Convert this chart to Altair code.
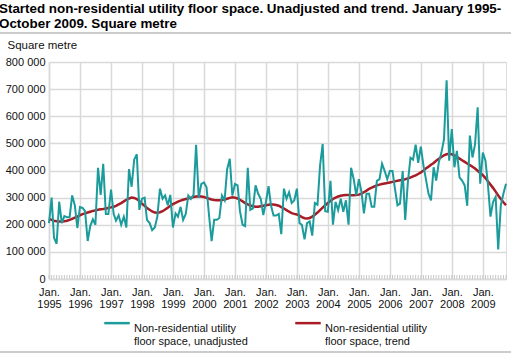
import altair as alt
import pandas as pd

# Monthly values, January 1995 - October 2009, in 1000 square metres
UNADJUSTED = [
    206, 300, 152, 130, 285, 206, 232, 228, 228, 308, 272, 188,   # 1995
    265, 262, 250, 140, 195, 220, 200, 410, 310, 425, 240, 240,   # 1996
    330, 240, 215, 235, 200, 230, 190, 405, 340, 440, 460, 255,   # 1997
    296, 300, 218, 206, 180, 190, 230, 333, 296, 308, 272, 310,   # 1998
    190, 242, 230, 266, 218, 240, 308, 295, 310, 495, 300, 350,   # 1999
    356, 338, 236, 140, 218, 218, 225, 308, 290, 405, 443, 308,   # 2000
    350, 345, 250, 200, 195, 410, 255, 260, 345, 315, 296, 236,   # 2001
    284, 342, 272, 234, 234, 240, 165, 333, 296, 320, 280, 290,   # 2002
    333, 206, 200, 146, 206, 212, 160, 280, 274, 417, 498, 250,   # 2003
    248, 362, 200, 284, 254, 296, 248, 290, 200, 410, 368, 308,   # 2004
    368, 320, 242, 314, 314, 266, 266, 362, 368, 425, 398, 368,   # 2005
    398, 398, 335, 272, 278, 398, 218, 356, 447, 440, 495, 428,   # 2006
    488, 418, 370, 315, 290, 412, 363, 430, 466, 515, 733, 436,   # 2007
    553, 412, 472, 375, 363, 345, 270, 529, 448, 496, 633, 351,   # 2008
    466, 436, 351, 230, 284, 303, 109, 272, 315, 351,             # 2009
]
TREND = [
    222, 218, 215, 213, 212, 212, 213, 215, 218, 222, 226, 230,
    235, 239, 242, 245, 248, 251, 253, 255, 257, 258, 260, 262,
    264, 266, 270, 275, 280, 286, 292, 297, 300, 299, 295, 287,
    278, 270, 262, 255, 249, 245, 244, 246, 250, 256, 263, 270,
    276, 281, 285, 289, 292, 295, 297, 300, 302, 304, 305, 304,
    302, 299, 296, 293, 291, 290, 290, 291, 293, 296, 299, 301,
    300, 297, 292, 286, 280, 275, 271, 268, 266, 266, 268, 270,
    272, 274, 275, 275, 273, 270, 265, 260, 254, 248, 243, 240,
    238, 234, 228, 224, 223, 225, 230, 237, 245, 254, 263, 272,
    280, 288, 295, 300, 304, 307, 309, 310, 310, 309, 309, 310,
    311, 315, 320, 326, 332, 337, 341, 345, 348, 350, 352, 354,
    356, 358, 360, 362, 364, 366, 368, 371, 374, 378, 382, 387,
    393, 400, 407, 414, 421, 428, 436, 443, 450, 456, 460, 462,
    460, 456, 450, 444, 438, 432, 426, 420, 414, 407, 399, 391,
    383, 372, 360, 348, 336, 322, 308, 295, 283, 272,
]
YEARS = list(range(1995, 2010))
SERIES = [
    "Non-residential utility floor space, unadjusted",
    "Non-residential utility floor space, trend",
]
COLORS = ["#1b9b9b", "#a81c26"]
TITLE = [
    "Started non-residential utility floor space. Unadjusted and trend. January 1995-",
    "October 2009. Square metre",
]
Y_TICKS = list(range(0, 800001, 100000))

FONT = "Liberation Sans"
W, H = 457, 217
GRID = "#d9d9d9"
SEP = "#cccccc"

N = len(UNADJUSTED)
months = pd.date_range("1995-01-01", periods=N, freq="MS")
unadj_df = pd.DataFrame({"date": months, "value": [v * 1000 for v in UNADJUSTED], "series": SERIES[0]})
trend_df = pd.DataFrame({"date": months, "value": [v * 1000 for v in TREND], "series": SERIES[1]})
tick_df = pd.DataFrame({"date": months})

x_scale = alt.Scale(domain=[alt.DateTime(year=1995, month=1, date=1),
                            alt.DateTime(year=2009, month=10, date=1)])
x_axis = alt.Axis(
    values=[alt.DateTime(year=y, month=1, date=1) for y in YEARS],
    labelExpr="['Jan.', timeFormat(datum.value, '%Y')]",
    title=None, grid=True, gridColor=GRID, gridWidth=1.5,
    tickSize=0, domainColor=GRID, domainWidth=1.5,
    labelFont=FONT, labelFontSize=11, labelColor="#111",
    labelBaseline="top", labelPadding=7, labelLineHeight=12,
    labelAlign="center", labelFlush=False, labelOverlap=False,
)
X = alt.X("date:T", scale=x_scale, axis=x_axis)
y_axis = alt.Axis(
    values=Y_TICKS,
    labelExpr="replace(format(datum.value, ','), ',', ' ')",
    title="Square metre", titleAngle=0, titleAlign="left", titleBaseline="alphabetic",
    titleX=-42, titleY=-14, titleFont=FONT, titleFontSize=11.5, titleFontWeight="normal",
    titleColor="#111",
    grid=True, gridColor=GRID, gridWidth=1.5, tickSize=0,
    domainColor=GRID, domainWidth=1.5,
    labelFont=FONT, labelFontSize=11, labelColor="#111", labelPadding=4,
)
Y = alt.Y("value:Q", scale=alt.Scale(domain=[0, 800000], nice=False), axis=y_axis)
color = alt.Color(
    "series:N",
    scale=alt.Scale(domain=SERIES, range=COLORS),
    legend=alt.Legend(
        title=None, orient="none", legendX=54, legendY=253, direction="horizontal",
        columns=2, columnPadding=42, symbolType="M-1,-0.46H1", symbolSize=650,
        symbolStrokeWidth=2.5, labelFont=FONT, labelFontSize=11, labelColor="#111",
        labelOffset=3, labelLimit=300,
        labelExpr="[slice(datum.label, 0, 23), slice(datum.label, 24)]",
    ),
)

trend = alt.Chart(trend_df).mark_line(strokeWidth=2.5).encode(x=X, y=Y, color=color)
unadj = alt.Chart(unadj_df).mark_line(strokeWidth=2).encode(x=X, y=Y, color=color)
ticks = alt.Chart(tick_df).mark_rule(color="#c8c8c8", strokeWidth=1).encode(
    x=X, y=alt.value(H - 4), y2=alt.value(H),
)
top_rule = alt.Chart(tick_df.head(1)).mark_rule(color=SEP, strokeWidth=2, clip=False).encode(
    x=alt.value(-49), x2=alt.value(462), y=alt.value(-29),
)
bottom_rule = alt.Chart(tick_df.head(1)).mark_rule(color=SEP, strokeWidth=2, clip=False).encode(
    x=alt.value(-49), x2=alt.value(462), y=alt.value(290),
)

chart = alt.layer(trend, unadj, ticks, top_rule, bottom_rule).properties(
    width=W, height=H,
    autosize=alt.AutoSizeParams(type="none"),
    padding={"left": 49, "top": 62, "right": 5, "bottom": 74},
    title=alt.TitleParams(
        text=TITLE, anchor="start", dx=0, dy=1, fontSize=13.4, font=FONT,
        fontWeight="bold", color="#000", lineHeight=15, offset=3,
    ),
).configure_view(stroke=None).configure(background="white")

chart.save("out.html", embed_options={"renderer": "svg", "actions": False})
